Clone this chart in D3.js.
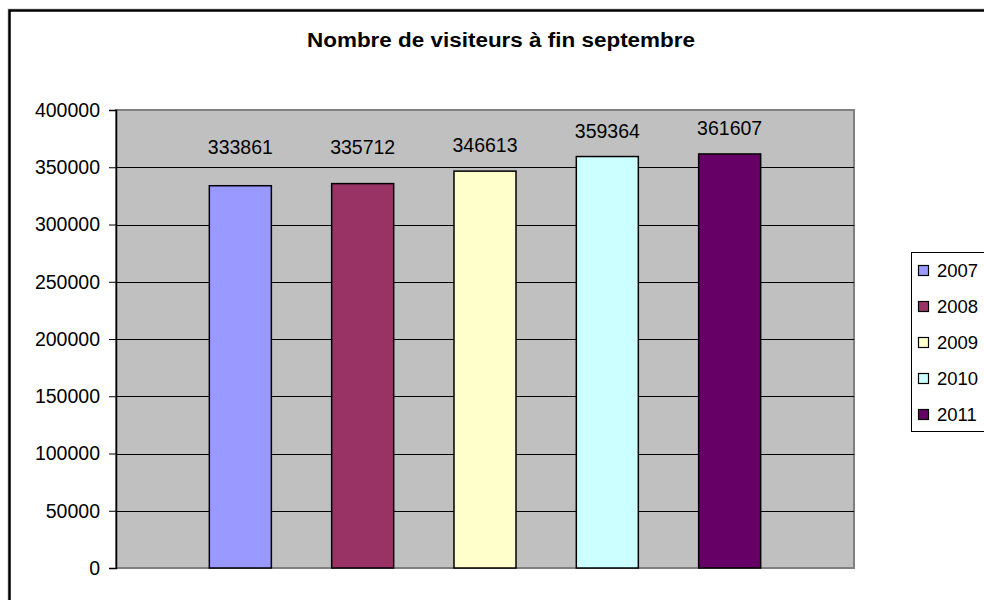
<!DOCTYPE html>
<html>
<head>
<meta charset="utf-8">
<script src="https://cdn.jsdelivr.net/npm/d3@7"></script>
<style>
	body { margin: 0; background: #fff; }
	text { font-family: Arial, "Liberation Sans", sans-serif; }
</style>
</head>
<body>
<div id="chart"></div>
<script>
var title = "Nombre de visiteurs à fin septembre"
var years = ["2007", "2008", "2009", "2010", "2011"]
var visitors = [333861, 335712, 346613, 359364, 361607]
var colors = ["#9999FF", "#993366", "#FFFFCC", "#CCFFFF", "#660066"]
var yTicks = [0, 50000, 100000, 150000, 200000, 250000, 300000, 350000, 400000]

var width = 984, height = 600
var plot = {left: 116, right: 854, top: 110, bottom: 568}

const svg = d3.select("#chart")
	.append("svg")
	.attr("width", width)
	.attr("height", height)

// outer frame
svg.append("rect")
	.attr("x", 8).attr("y", 9)
	.attr("width", 1000).attr("height", 1000)
	.attr("fill", "none")
	.attr("stroke", "#c8c8c8")
	.attr("stroke-width", 1)
svg.append("rect")
	.attr("x", 9.5).attr("y", 10.5)
	.attr("width", 1000).attr("height", 1000)
	.attr("fill", "none")
	.attr("stroke", "#000")
	.attr("stroke-width", 2.5)

svg.append("text")
	.attr("x", 501)
	.attr("y", 47)
	.attr("text-anchor", "middle")
	.attr("font-size", "20px")
	.attr("font-weight", "bold")
	.attr("textLength", 388)
	.attr("lengthAdjust", "spacingAndGlyphs")
	.text(title)

const x = d3.scaleBand()
	.domain(years)
	.range([plot.left, plot.right])
	.paddingInner(0.493)
	.paddingOuter(0.763)
const y = d3.scaleLinear()
	.domain([0, 400000])
	.range([plot.bottom, plot.top])

// plot area
svg.append("rect")
	.attr("x", plot.left)
	.attr("y", plot.top)
	.attr("width", plot.right - plot.left)
	.attr("height", plot.bottom - plot.top)
	.attr("fill", "#C0C0C0")
	.attr("stroke", "#808080")
	.attr("stroke-width", 2)

// grid
svg.append("g")
	.selectAll("line")
	.data(yTicks.filter(d => d > 0 && d < 400000))
	.join("line")
	.attr("x1", plot.left)
	.attr("x2", plot.right)
	.attr("y1", d => Math.round(y(d)) + 0.5)
	.attr("y2", d => Math.round(y(d)) + 0.5)
	.attr("stroke", "#000")
	.attr("stroke-width", 1)

// y axis
const yAxis = svg.append("g")
	.attr("transform", `translate(${plot.left},0)`)
	.call(d3.axisLeft(y)
		.tickValues(yTicks)
		.tickSize(7)
		.tickPadding(9)
		.tickFormat(d3.format("d")))
yAxis.select(".domain").attr("stroke", "#000").attr("stroke-width", 1.5)
yAxis.selectAll(".tick line").attr("stroke", "#000")
yAxis.selectAll(".tick text")
	.attr("font-family", "Arial, 'Liberation Sans', sans-serif")
	.attr("font-size", "19.5px")
	.attr("fill", "#000")

// bars
svg.append("g")
	.selectAll("rect")
	.data(years)
	.join("rect")
	.attr("x", d => x(d))
	.attr("y", (d, i) => y(visitors[i]))
	.attr("width", x.bandwidth())
	.attr("height", (d, i) => y(0) - y(visitors[i]))
	.attr("fill", (d, i) => colors[i])
	.attr("stroke", "#000")
	.attr("stroke-width", 1.5)

// value labels
svg.append("g")
	.selectAll("text")
	.data(years)
	.join("text")
	.attr("x", d => x(d) + x.bandwidth() / 2)
	.attr("y", (d, i) => Math.min(y(visitors[i]) - 19, 154))
	.attr("text-anchor", "middle")
	.attr("font-size", "19.5px")
	.text((d, i) => visitors[i])

// legend
const legend = svg.append("g")
legend.append("rect")
	.attr("x", 911.5).attr("y", 252.5)
	.attr("width", 100).attr("height", 179)
	.attr("fill", "#fff")
	.attr("stroke", "#000")
	.attr("stroke-width", 1)

const legendY = d3.scalePoint()
	.domain(years)
	.range([270, 414])

const item = legend.selectAll(".item")
	.data(years)
	.join("g")
	.attr("class", "item")
	.attr("transform", d => `translate(0,${legendY(d)})`)
item.append("rect")
	.attr("x", 918.5).attr("y", -4.5)
	.attr("width", 10).attr("height", 10)
	.attr("fill", (d, i) => colors[i])
	.attr("stroke", "#000")
	.attr("stroke-width", 1.2)
item.append("text")
	.attr("x", 937)
	.attr("y", 7)
	.attr("font-size", "18.5px")
	.text(d => d)
</script>
</body>
</html>
